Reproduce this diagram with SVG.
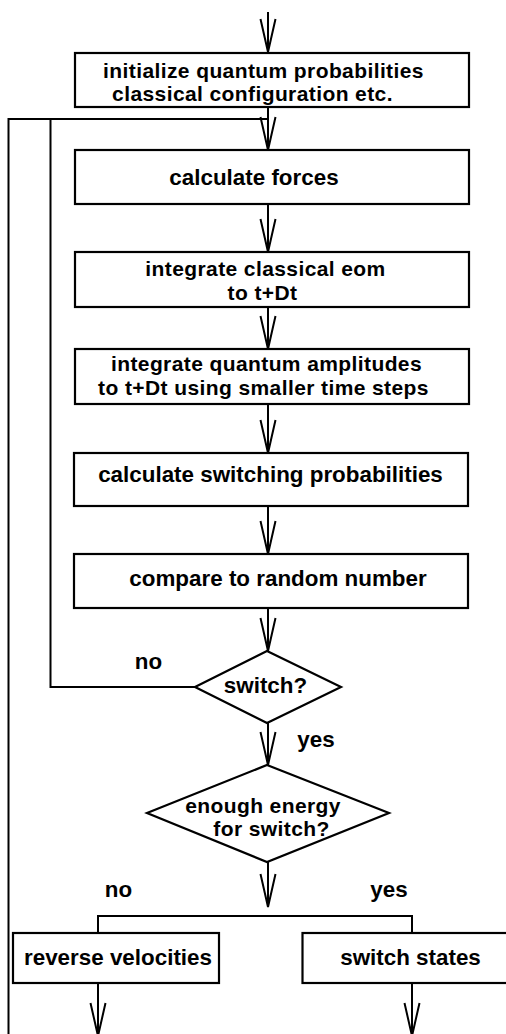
<svg xmlns="http://www.w3.org/2000/svg" width="506" height="1034" viewBox="0 0 506 1034">
<style>
.box{fill:#fff;stroke:#000;stroke-width:2.2}
.ln{fill:none;stroke:#000;stroke-width:2}
.t{font-family:"Liberation Sans",Arial,Helvetica,sans-serif;font-weight:bold;font-size:22.4px;fill:#000;text-anchor:middle}
.t2{font-size:21px;letter-spacing:0.4px}
</style>
<defs>
<marker id="v" markerUnits="userSpaceOnUse" orient="auto" refX="0" refY="0" markerWidth="40" markerHeight="20" overflow="visible">
<path d="M-33,-7.5 L0,0 L-33,7.5" fill="none" stroke="#000" stroke-width="2"/>
</marker>
</defs>
<rect width="506" height="1034" fill="#fff"/>
<g id="connectors">
<line class="ln" x1="268" y1="12" x2="268" y2="52" marker-end="url(#v)"/>
<line class="ln" x1="268" y1="107" x2="268" y2="150" marker-end="url(#v)"/>
<polyline class="ln" points="8.5,1034 8.5,119 268,119"/>
<polyline class="ln" points="195,687 50.5,687 50.5,119"/>
<line class="ln" x1="268" y1="204" x2="268" y2="252" marker-end="url(#v)"/>
<line class="ln" x1="268" y1="307" x2="268" y2="349" marker-end="url(#v)"/>
<line class="ln" x1="268" y1="404" x2="268" y2="453" marker-end="url(#v)"/>
<line class="ln" x1="268" y1="506" x2="268" y2="554" marker-end="url(#v)"/>
<line class="ln" x1="268" y1="608" x2="268" y2="651" marker-end="url(#v)"/>
<line class="ln" x1="268" y1="723" x2="268" y2="765" marker-end="url(#v)"/>
<line class="ln" x1="268" y1="862" x2="268" y2="907" marker-end="url(#v)"/>
<polyline class="ln" points="98,933 98,916 412,916 412,933"/>
<line class="ln" x1="98" y1="983" x2="98" y2="1036" marker-end="url(#v)"/>
<line class="ln" x1="412" y1="983" x2="412" y2="1036" marker-end="url(#v)"/>
</g>
<g id="init">
<rect class="box" x="75" y="53" width="394" height="54"/>
<text class="t t2" x="263.5" y="77.5">initialize quantum probabilities</text>
<text class="t t2" x="252.5" y="101.2">classical configuration etc.</text>
</g>
<g id="forces">
<rect class="box" x="75" y="150" width="394" height="54"/>
<text class="t" x="254" y="185">calculate forces</text>
</g>
<g id="classical">
<rect class="box" x="75" y="252" width="394" height="55"/>
<text class="t t2" x="265.5" y="276.2">integrate classical eom</text>
<text class="t t2" x="262.5" y="299.8">to t+Dt</text>
</g>
<g id="quantum">
<rect class="box" x="75" y="349" width="394" height="55"/>
<text class="t t2" x="266.5" y="371.2">integrate quantum amplitudes</text>
<text class="t t2" x="263.5" y="394.8">to t+Dt using smaller time steps</text>
</g>
<g id="switchprob">
<rect class="box" x="74" y="453" width="394" height="53"/>
<text class="t" x="270.5" y="482">calculate switching probabilities</text>
</g>
<g id="compare">
<rect class="box" x="74" y="554" width="394" height="54"/>
<text class="t" x="278" y="586">compare to random number</text>
</g>
<g id="switch">
<polygon class="box" points="267,651 341,687 267,723 195,687"/>
<text class="t" x="265.5" y="693">switch?</text>
<text class="t" x="148.5" y="669">no</text>
<text class="t" x="316" y="747">yes</text>
</g>
<g id="energy">
<polygon class="box" points="267,765 389,813 267,862 147,813"/>
<text class="t t2" x="263" y="812.7">enough energy</text>
<text class="t t2" x="271.5" y="836.3">for switch?</text>
<text class="t" x="118.5" y="897">no</text>
<text class="t" x="389" y="897">yes</text>
</g>
<g id="reverse">
<rect class="box" x="13" y="933" width="206" height="50"/>
<text class="t" x="118" y="965">reverse velocities</text>
</g>
<g id="states">
<rect class="box" x="302.5" y="933" width="210" height="50"/>
<text class="t" x="410.5" y="965">switch states</text>
</g>
</svg>
